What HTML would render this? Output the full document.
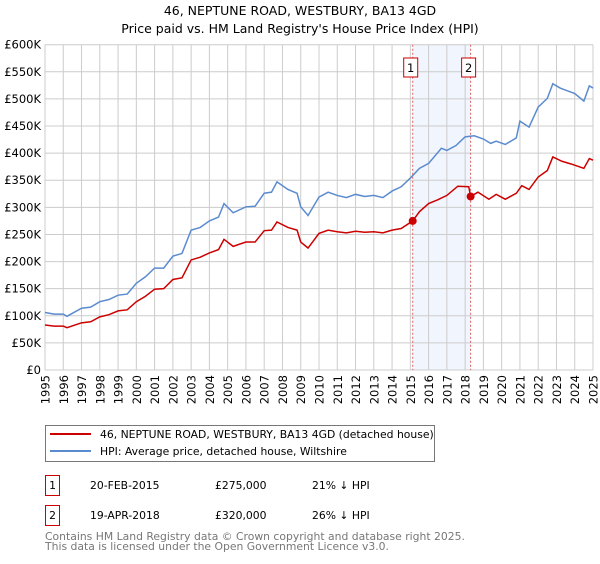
<!DOCTYPE html>
<html><head><meta charset="utf-8"><style>
body{margin:0;background:#fff;width:600px;height:560px;overflow:hidden;font-family:"DejaVu Sans","Liberation Sans",sans-serif}
svg text{font-family:"DejaVu Sans","Liberation Sans",sans-serif}
</style></head><body>
<svg id="chart" width="600" height="560" xmlns="http://www.w3.org/2000/svg">
<text x="300" y="15" text-anchor="middle" font-size="12.5">46, NEPTUNE ROAD, WESTBURY, BA13 4GD</text>
<text x="300" y="33" text-anchor="middle" font-size="12.5">Price paid vs. HM Land Registry's House Price Index (HPI)</text>
<g id="grid"></g>
<g id="marks"></g>
<g id="axes"></g>
<g>
<rect x="45.5" y="425.5" width="389" height="36" fill="#fff" stroke="#777"/>
<line x1="50" y1="434" x2="91" y2="434" stroke="#cc0000" stroke-width="2"/>
<text x="100" y="438" font-size="10.8">46, NEPTUNE ROAD, WESTBURY, BA13 4GD (detached house)</text>
<line x1="50" y1="451" x2="91" y2="451" stroke="#5b8bcf" stroke-width="2"/>
<text x="100" y="455" font-size="10.8">HPI: Average price, detached house, Wiltshire</text>
</g>
<g font-size="10.8">
<rect x="45.5" y="475.5" width="14" height="20" fill="#fff" stroke="#cc0000"/>
<text x="52.5" y="489" text-anchor="middle">1</text>
<text x="90" y="489">20-FEB-2015</text>
<text x="215" y="489">£275,000</text>
<text x="312" y="489">21% ↓ HPI</text>
<rect x="45.5" y="505.5" width="14" height="20" fill="#fff" stroke="#cc0000"/>
<text x="52.5" y="519" text-anchor="middle">2</text>
<text x="90" y="519">19-APR-2018</text>
<text x="215" y="519">£320,000</text>
<text x="312" y="519">26% ↓ HPI</text>
</g>
<text x="45" y="540" font-size="10.8" fill="#777">Contains HM Land Registry data © Crown copyright and database right 2025.</text>
<text x="45" y="550" font-size="10.8" fill="#777">This data is licensed under the Open Government Licence v3.0.</text>
</svg>
<script>
const hpiYears=[1995,1995.5,1996,1996.2,1997,1997.5,1998,1998.5,1999,1999.5,2000,2000.5,2001,2001.5,2002,2002.5,2003,2003.5,2004,2004.5,2004.8,2005.3,2006,2006.5,2007,2007.4,2007.7,2008.3,2008.8,2009,2009.4,2010,2010.5,2011,2011.5,2012,2012.5,2013,2013.5,2014,2014.5,2015,2015.5,2016,2016.7,2017,2017.5,2018,2018.5,2019,2019.4,2019.7,2020.2,2020.8,2021,2021.5,2022,2022.5,2022.8,2023.2,2023.6,2024,2024.5,2024.8,2025];
const hpiValues=[106,103,103,99,114,116,126,130,138,140,160,172,188,188,210,215,258,263,275,282,307,290,301,302,326,328,347,333,326,301,285,319,328,322,318,324,320,322,318,330,338,354,372,381,409,405,414,430,432,426,418,422,416,428,459,448,485,501,528,520,515,510,496,524,520];
const redYears=[1995,1995.5,1996,1996.2,1997,1997.5,1998,1998.5,1999,1999.5,2000,2000.5,2001,2001.5,2002,2002.5,2003,2003.5,2004,2004.5,2004.8,2005.3,2006,2006.5,2007,2007.4,2007.7,2008.3,2008.8,2009,2009.4,2010,2010.5,2011,2011.5,2012,2012.5,2013,2013.5,2014,2014.5,2015.13,2015.5,2016,2016.5,2017,2017.6,2018.2,2018.3,2018.7,2019.3,2019.7,2020.2,2020.8,2021.1,2021.5,2022,2022.5,2022.8,2023.3,2023.8,2024.5,2024.8,2025];
const redValues=[83,81,81,78,87,89,98,102,109,111,126,136,149,150,167,170,203,208,216,222,241,228,236,236,257,258,273,263,258,236,225,252,258,255,253,256,254,255,253,258,261,275,292,307,314,322,339,338,320,328,315,324,315,326,340,333,356,368,393,385,380,372,390,387];
const sales=[{y:2015.13,v:275},{y:2018.3,v:320}];
const yTicks=[0,50,100,150,200,250,300,350,400,450,500,550,600];
const x=yr=>45+(yr-1995)*(548/30);
const y=v=>370-v*(325.3/600);
const NS="http://www.w3.org/2000/svg";
function mk(parent,tag,attrs){const e=document.createElementNS(NS,tag);for(const k in attrs)e.setAttribute(k,attrs[k]);document.getElementById(parent).appendChild(e);return e;}
let sh=mk('grid','rect',{x:x(2015.13),y:y(600),width:x(2018.3)-x(2015.13),height:y(0)-y(600),fill:'#f1f5fd'});


for(let yr=1995;yr<=2025;yr++){
 let g=mk('grid','line',{x1:x(yr),x2:x(yr),y1:y(600),y2:y(0),stroke:'#ccc','stroke-width':1});
 
 
 let t=mk('axes','text',{transform:`translate(${x(yr)+4.5},375) rotate(-90)`,'text-anchor':'end','font-size':'11.5'});
 
 
 t.textContent=yr;
}
yTicks.forEach(v=>{
 let g=mk('grid','line',{x1:45,x2:593,y1:y(v),y2:y(v),stroke:'#ccc','stroke-width':1});
 
 
 let t=mk('axes','text',{x:41,y:y(v)+4,'text-anchor':'end','font-size':'11.5'});
 
 
 t.textContent=v===0?'£0':'£'+v+'K';
});
sales.forEach((s,i)=>{
 let l=mk('grid','line',{x1:x(s.y),x2:x(s.y),y1:y(600),y2:y(0),stroke:'#e06060','stroke-width':1,'stroke-dasharray':'2,2'});
 
 
 let b=mk('axes','rect',{x:x(s.y)-9,y:58,width:14,height:19,fill:'#fff',stroke:'#cc0000'});
 
 
 let t=mk('axes','text',{x:x(s.y)-2,y:72,'text-anchor':'middle','font-size':'11.5'});
 
 
 t.textContent=i+1;
});
let hp=mk('marks','polyline',{points:hpiYears.map((t,i)=>x(t)+','+y(hpiValues[i])).join(' '),fill:'none',stroke:'#5b8bcf','stroke-width':1.5});


let rp=mk('marks','polyline',{points:redYears.map((t,i)=>x(t)+','+y(redValues[i])).join(' '),fill:'none',stroke:'#cc0000','stroke-width':1.5});


sales.forEach(s=>{
 let d=mk('marks','circle',{cx:x(s.y),cy:y(s.v),r:4,fill:'#cc0000'});
 
 
});
</script>
</body></html>
